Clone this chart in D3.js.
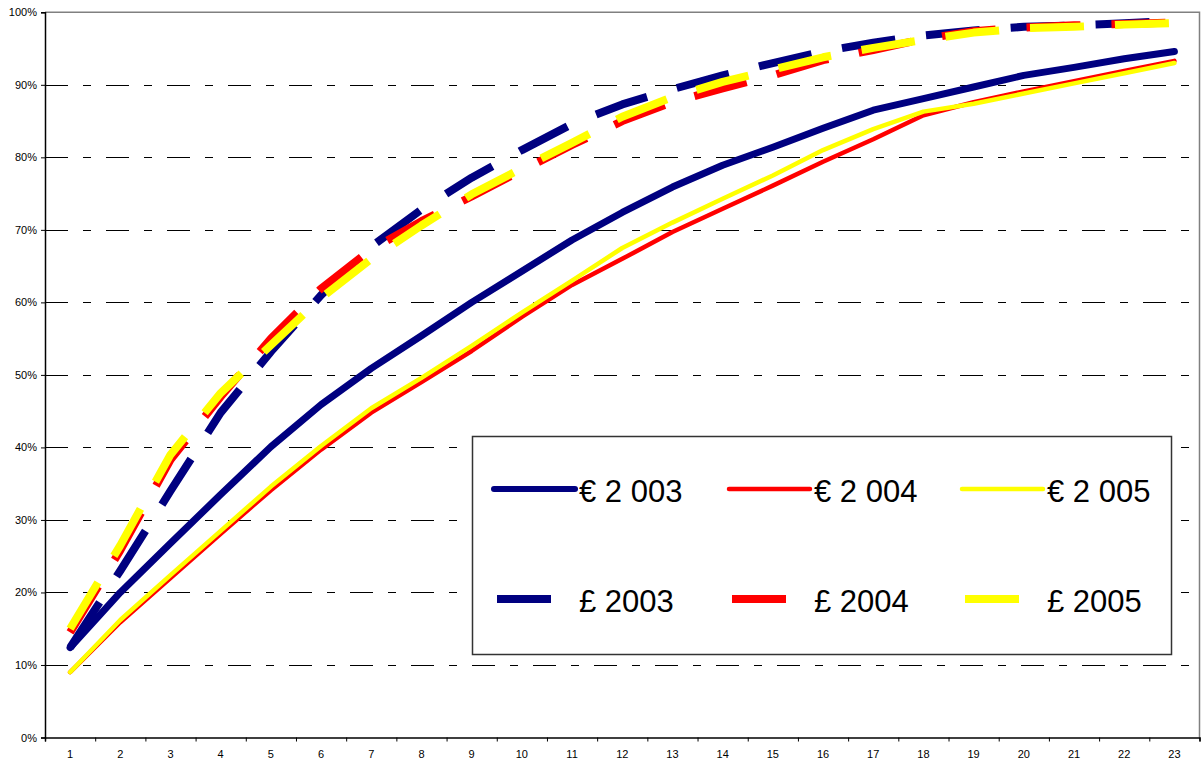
<!DOCTYPE html>
<html>
<head>
<meta charset="utf-8">
<script src="https://cdn.jsdelivr.net/npm/d3@7"></script>
<style>
  body { margin: 0; background: #fff; }
  svg { display: block; font-family: Arial, "Liberation Sans", sans-serif; }
</style>
</head>
<body>
<div id="chart"></div>
<script>
// Categories on the x axis
var categories = [1, 2, 3, 4, 5, 6, 7, 8, 9, 10, 11, 12, 13, 14, 15, 16, 17, 18, 19, 20, 21, 22, 23];

// Y tick values (percent)
var yTicks = [0, 10, 20, 30, 40, 50, 60, 70, 80, 90, 100];

// Series values (percent)
var eur2003 = [12.4, 20.0, 26.8, 33.5, 40.1, 45.9, 50.9, 55.4, 60.0, 64.3, 68.6, 72.4, 75.9, 78.9, 81.4, 84.0, 86.5, 88.1, 89.7, 91.3, 92.4, 93.6, 94.6];
var eur2004 = [9.0, 15.9, 22.0, 28.1, 34.1, 39.7, 44.8, 49.0, 53.3, 58.0, 62.4, 66.0, 69.7, 72.9, 76.1, 79.4, 82.5, 85.8, 87.6, 89.1, 90.5, 91.9, 93.3];
var eur2005 = [9.0, 16.2, 22.4, 28.5, 34.6, 40.2, 45.4, 49.6, 54.0, 58.6, 63.0, 67.5, 71.0, 74.3, 77.5, 81.0, 83.9, 86.3, 87.4, 88.8, 90.2, 91.6, 93.0];
var gbp2003 = [12.4, 23.0, 34.0, 44.8, 53.2, 61.0, 67.7, 72.8, 77.2, 81.0, 84.6, 87.3, 89.4, 91.3, 93.0, 94.6, 95.8, 96.8, 97.5, 98.0, 98.2, 98.5, 98.8];
var gbp2004 = [14.5, 25.8, 38.3, 47.0, 55.0, 61.9, 67.3, 71.2, 74.6, 78.2, 81.7, 85.0, 87.6, 89.5, 91.3, 93.4, 94.8, 96.3, 97.4, 97.9, 98.2, 98.4, 98.6];
var gbp2005 = [15.0, 26.5, 39.0, 47.5, 54.1, 60.6, 66.0, 70.6, 74.9, 78.5, 82.0, 85.6, 88.3, 90.4, 92.1, 93.8, 95.1, 96.2, 97.2, 97.8, 98.0, 98.3, 98.5];

var seriesNames = ["€ 2 003", "€ 2 004", "€ 2 005", "£ 2003", "£ 2004", "£ 2005"];
var seriesValues = [eur2003, eur2004, eur2005, gbp2003, gbp2004, gbp2005];

// Looks for each series
var seriesColors = ["#000080", "#ff0000", "#ffff00", "#000080", "#ff0000", "#ffff00"];
var seriesWidths = [7, 4.5, 4.5, 8, 8, 8];
var seriesDashed = [false, false, false, true, true, true];

// Size of the picture and the plot area
var svgWidth = 1201;
var svgHeight = 764;
var plotLeft = 45;
var plotRight = 1199.5;
var plotTop = 12.3;
var plotBottom = 737.5;

var svg = d3.select("#chart").append("svg")
            .attr("width", svgWidth)
            .attr("height", svgHeight);

// Scales
var x = d3.scaleBand()
          .domain(categories)
          .range([plotLeft, plotRight]);

var xEdges = d3.scaleLinear()
               .domain([0, categories.length])
               .range([plotLeft, plotRight]);

var y = d3.scaleLinear()
          .domain([0, 100])
          .range([plotBottom, plotTop]);

// Dashed grid lines
svg.append("g")
   .attr("transform", "translate(" + plotLeft + ",0)")
   .call(d3.axisLeft(y)
           .tickValues(yTicks.filter(function(d) { return d > 0 && d < 100; }))
           .tickSize(-(plotRight - plotLeft))
           .tickFormat(""))
   .call(function(g) { g.select(".domain").remove(); })
   .selectAll("line")
   .attr("stroke", "#000")
   .attr("stroke-dasharray", "23,15,8,15")
   .attr("shape-rendering", "crispEdges");

// Top and right border of the plot area
svg.append("path")
   .attr("d", "M" + plotLeft + "," + y(100) + "H" + plotRight + "V" + plotBottom)
   .attr("fill", "none")
   .attr("stroke", "#808080")
   .attr("stroke-width", 1.5);

// Y axis
var yAxis = svg.append("g")
               .attr("transform", "translate(" + plotLeft + ",0)")
               .call(d3.axisLeft(y)
                       .tickValues(yTicks)
                       .tickSize(4)
                       .tickPadding(4)
                       .tickFormat(function(d) { return d + "%"; }));
yAxis.select(".domain").attr("stroke", "#000").attr("stroke-width", 1.5);
yAxis.selectAll("text").attr("font-size", "11px").attr("font-family", "Arial, 'Liberation Sans', sans-serif").attr("fill", "#000");

// X axis: tick marks between categories, labels in the middle
var xTicks = svg.append("g")
                .attr("transform", "translate(0," + plotBottom + ")")
                .call(d3.axisBottom(xEdges)
                        .tickValues(d3.range(0, categories.length + 1))
                        .tickSize(4)
                        .tickFormat(""));
xTicks.select(".domain").attr("stroke", "#000").attr("stroke-width", 1.5);

var xLabels = svg.append("g")
                 .attr("transform", "translate(0," + plotBottom + ")")
                 .call(d3.axisBottom(x).tickSize(0).tickPadding(13));
xLabels.select(".domain").remove();
xLabels.selectAll("text").attr("font-size", "11px").attr("font-family", "Arial, 'Liberation Sans', sans-serif").attr("fill", "#000");

// Lines
var line = d3.line()
             .x(function(d, i) { return x(categories[i]) + x.bandwidth() / 2; })
             .y(function(d) { return y(d); });

svg.append("g")
   .selectAll("path")
   .data(seriesValues)
   .enter()
   .append("path")
   .attr("d", function(d) { return line(d); })
   .attr("fill", "none")
   .attr("stroke", function(d, i) { return seriesColors[i]; })
   .attr("stroke-width", function(d, i) { return seriesWidths[i]; })
   .attr("stroke-linejoin", "round")
   .attr("stroke-linecap", function(d, i) { return seriesDashed[i] ? "butt" : "round"; })
   .attr("stroke-dasharray", function(d, i) { return seriesDashed[i] ? "54,31" : null; });

// Legend
var legend = svg.append("g");

legend.append("rect")
      .attr("x", 472.5)
      .attr("y", 436.5)
      .attr("width", 699)
      .attr("height", 218)
      .attr("fill", "#fff")
      .attr("stroke", "#333")
      .attr("stroke-width", 1.5);

var legendCols = [494, 729, 962];
var legendRows = [489, 599];

var legendItems = legend.selectAll("g.item")
                        .data(seriesNames)
                        .enter()
                        .append("g")
                        .attr("class", "item")
                        .attr("transform", function(d, i) {
                          return "translate(" + legendCols[i % 3] + "," + legendRows[Math.floor(i / 3)] + ")";
                        });

legendItems.append("line")
           .attr("x1", function(d, i) { return seriesDashed[i] ? 3 : 0; })
           .attr("x2", 81)
           .attr("y1", 0)
           .attr("y2", 0)
           .attr("stroke", function(d, i) { return seriesColors[i]; })
           .attr("stroke-width", function(d, i) { return seriesDashed[i] ? 8 : (i === 0 ? 6 : 4.5); })
           .attr("stroke-linecap", function(d, i) { return seriesDashed[i] ? "butt" : "round"; })
           .attr("stroke-dasharray", function(d, i) { return seriesDashed[i] ? "54,31" : null; });

legendItems.append("text")
           .text(function(d) { return d; })
           .attr("x", 85)
           .attr("y", 13)
           .attr("font-size", "31px")
           .attr("fill", "#000");
</script>
</body>
</html>
